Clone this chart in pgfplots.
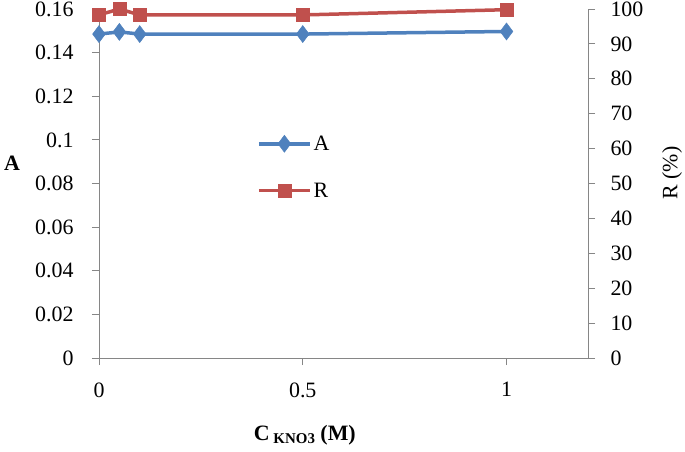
\documentclass[border=0pt]{standalone}
\usepackage{pgfplots}
\pgfplotsset{compat=1.18}
\usepackage{fontspec}
\setmainfont{Liberation Serif}
\definecolor{cA}{HTML}{4F81BD}
\definecolor{cR}{HTML}{C0504D}
\definecolor{axg}{HTML}{868686}
\begin{document}
\begin{tikzpicture}
\useasboundingbox (-99bp,-94bp) rectangle (586bp,358bp);
\pgfplotsset{
  every axis/.append style={
    scale only axis, width=489bp, height=349bp,
    at={(0,0)}, anchor=south west,
    xmin=0, xmax=1.2,
    font=\fontsize{22}{26}\selectfont,
    /pgf/number format/assume math mode=true,
    tick align=outside, major tick length=7bp,
    tick style={axg, line width=0.9bp},
    axis line style={axg, line width=0.9bp},
  },
}
\begin{axis}[
  axis x line*=bottom, axis y line*=left,
  ymin=0, ymax=0.16,
  ytick={0,0.02,...,0.16},
  yticklabels={0,0.02,0.04,0.06,0.08,0.1,0.12,0.14,0.16},
  xtick={0,0.5,1},
  xticklabels={0,0.5,1},
  xticklabel style={yshift=-14bp},
  yticklabel style={xshift=-15bp},
  xlabel={\textbf{C\,\raisebox{-0.35ex}{\fontsize{15}{17}\selectfont KNO3} (M)}},
  xlabel style={at={(axis description cs:0.421,-0.22)}, anchor=center},
  ylabel={\textbf{A}},
  ylabel style={at={(axis description cs:-0.178,0.559)}, rotate=-90, anchor=center},
]
\addplot[cA, line width=3.5bp, mark=diamond*, mark size=8.5bp, mark options={fill=cA, line width=0.5bp}]
  coordinates {(0,0.1485) (0.05,0.1495) (0.1,0.1485) (0.5,0.1485) (1,0.1497)};
\end{axis}
\begin{axis}[
  axis x line=none, axis y line*=right,
  ymin=0, ymax=100,
  ytick={0,10,...,100},
  yticklabel style={xshift=12bp},
  ylabel={R (\%)},
  ylabel style={at={(axis description cs:1.172,0.530)}, rotate=0, anchor=center},
  legend style={draw=none, fill=none, at={(axis description cs:0.323,0.643)}, anchor=north west,
    row sep=27bp, font=\fontsize{22}{26}\selectfont, inner sep=0pt},
  legend cell align=left,
  legend image code/.code={\draw[mark repeat=2,mark phase=2] plot coordinates {(0bp,0bp) (25.5bp,0bp) (51bp,0bp)};},
]
\addlegendimage{cA, line width=3.5bp, mark=diamond*, mark size=8.5bp, mark options={fill=cA, line width=0.5bp}}
\addlegendentry{A}
\addplot[cR, line width=3.5bp, mark=square*, mark size=6.5bp, mark options={fill=cR, line width=0.5bp}]
  coordinates {(0,98.3) (0.05,100) (0.1,98.3) (0.5,98.3) (1,99.8)};
\addlegendentry{R}
\end{axis}
\end{tikzpicture}
\end{document}
